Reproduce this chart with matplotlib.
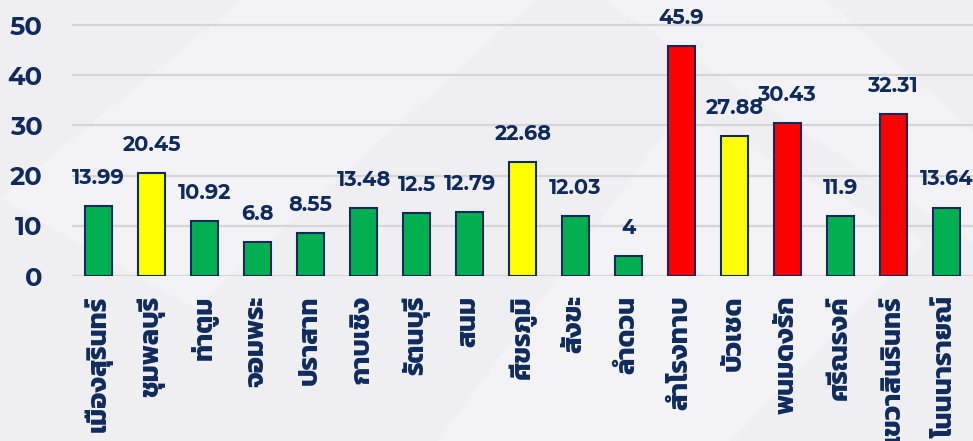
import matplotlib
matplotlib.use("Agg")
import matplotlib.pyplot as plt
from matplotlib import font_manager
import numpy as np

districts = ["เมืองสุรินทร์", "ชุมพลบุรี", "ท่าตูม", "จอมพระ", "ปราสาท", "กาบเชิง",
             "รัตนบุรี", "สนม", "ศีขรภูมิ", "สังขะ", "ลำดวน", "สำโรงทาบ", "บัวเชด",
             "พนมดงรัก", "ศรีณรงค์", "เขวาสินรินทร์", "โนนนารายณ์"]
values = [13.99, 20.45, 10.92, 6.8, 8.55, 13.48, 12.5, 12.79, 22.68, 12.03,
          4, 45.9, 27.88, 30.43, 11.9, 32.31, 13.64]
value_text = ["13.99", "20.45", "10.92", "6.8", "8.55", "13.48", "12.5", "12.79",
              "22.68", "12.03", "4", "45.9", "27.88", "30.43", "11.9", "32.31", "13.64"]
levels = ["g", "y", "g", "g", "g", "g", "g", "g", "y", "g",
          "g", "r", "y", "r", "g", "r", "g"]
y_ticks = [0, 10, 20, 30, 40, 50]

level_colors = {"g": "#00b050", "y": "#ffff00", "r": "#ff0000"}
navy = "#0f2a5c"

files = {f.fname.split("/")[-1].rsplit(".", 1)[0]: f.fname
         for f in font_manager.fontManager.ttflist}


def first_file(names):
    for n in names:
        if n in files:
            return files[n]
    return None


thai_file = first_file(["Kanit-Bold", "Prompt-Bold", "Mitr-Bold", "BaiJamjuree-Bold", "Athiti-Bold"])
num_file = first_file(["Montserrat-Bold", "Montserrat-SemiBold", "MontserratAlternates-Bold",
                       "Kanit-Bold"])


def fprop(path, size):
    if path:
        return font_manager.FontProperties(fname=path, size=size)
    return font_manager.FontProperties(size=size, weight="bold")


fig = plt.figure(figsize=(9.73, 4.41), dpi=100)
fig.patch.set_facecolor("#efeff1")

# faint diagonal panels in the background
bg = fig.add_axes([0, 0, 1, 1], zorder=-5)
bg.set_xlim(0, 1)
bg.set_ylim(0, 1)
bg.axis("off")
for pts in [[(0.0, 0.55), (0.25, 1.0), (0.55, 1.0), (0.2, 0.3)],
            [(0.45, 0.0), (0.75, 0.0), (0.95, 0.45), (0.7, 0.75)],
            [(0.62, 1.0), (0.85, 1.0), (1.0, 0.7), (1.0, 0.45)]]:
    bg.add_patch(plt.Polygon(pts, closed=True, facecolor="white", alpha=0.3, lw=0))

ax = fig.add_axes([72 / 973, 1 - 276 / 441, 1 - 72 / 973, 276 / 441])
ax.set_facecolor("none")

x = np.arange(len(districts))
ax.bar(x, values, width=0.52, color=[level_colors[l] for l in levels],
       edgecolor=navy, linewidth=1.5, zorder=3)

for xi, v, t in zip(x, values, value_text):
    ax.annotate(t, (xi, v), xytext=(0, 13), textcoords="offset points",
                ha="center", va="bottom", fontproperties=fprop(num_file, 15),
                color=navy, zorder=4)

ax.set_xlim(-0.5, len(districts) - 0.5)
ax.set_ylim(0, 55)
ax.set_yticks(y_ticks)
ax.set_yticklabels([str(t) for t in y_ticks], fontproperties=fprop(num_file, 18.5), color=navy)
ax.tick_params(axis="y", length=0, pad=21)
ax.yaxis.grid(True, color="#d6d6d8", linewidth=1.6, zorder=0)
ax.set_axisbelow(True)

ax.set_xticks(x)
ax.set_xticklabels(districts, rotation=90, fontproperties=fprop(thai_file, 19.5), color=navy)
ax.tick_params(axis="x", length=0, pad=14)

for s in ax.spines.values():
    s.set_visible(False)

fig.savefig("out.png", dpi=100, facecolor=fig.get_facecolor())
